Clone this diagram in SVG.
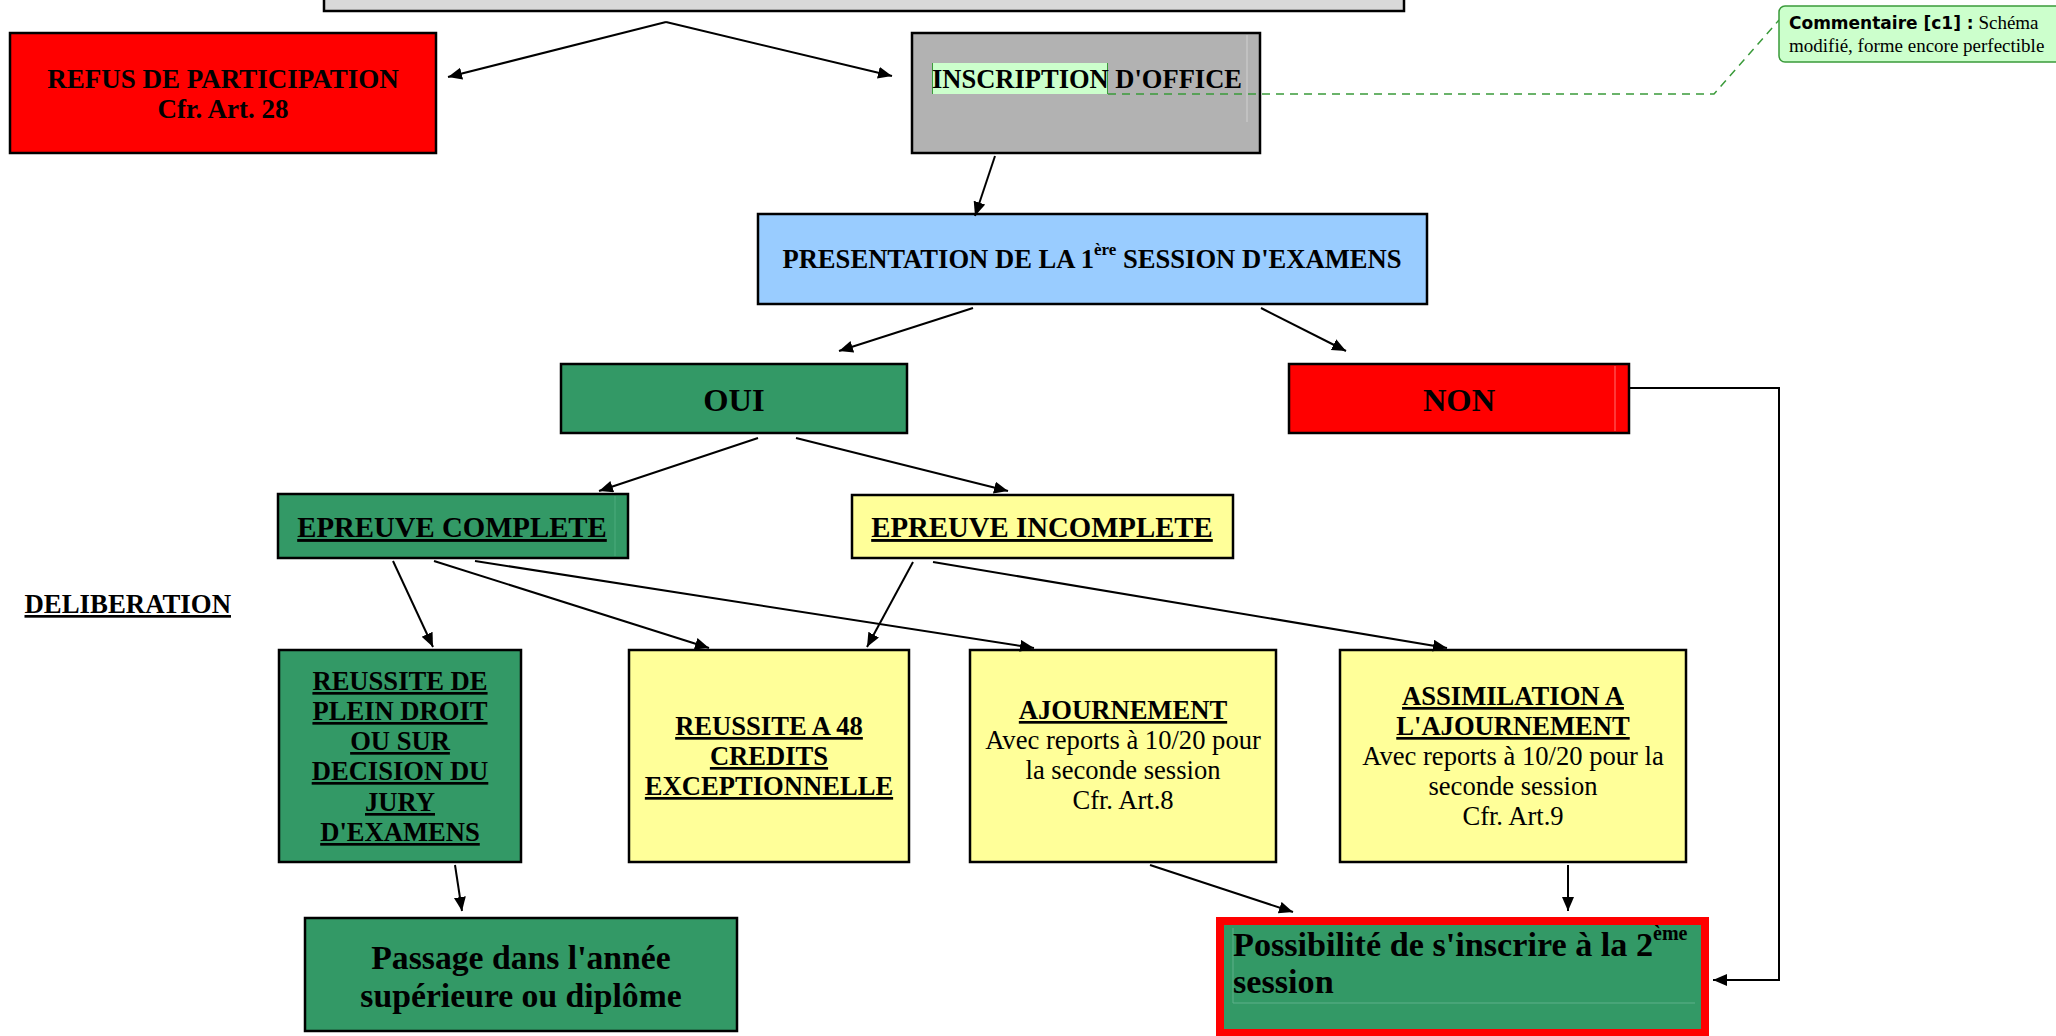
<svg xmlns="http://www.w3.org/2000/svg" width="2056" height="1036" viewBox="0 0 2056 1036">
<style>
  .box { stroke: #000; stroke-width: 2.5; }
  .red { fill: #ff0000; }
  .gray { fill: #b2b2b2; }
  .lgray { fill: #d9d9d9; }
  .blue { fill: #99ccff; }
  .green { fill: #339966; }
  .yellow { fill: #ffff99; }
  .t { font-family: "Liberation Serif", "Times New Roman", serif; fill: #000; }
  .b { font-weight: bold; }
  .c { text-anchor: middle; }
  .u { text-decoration: underline; }
  .conn { stroke: #000; stroke-width: 2; fill: none; marker-end: url(#arr); }
  .note { stroke: #3a9a3a; stroke-width: 1.5; fill: none; stroke-dasharray: 8 6; }
</style>
<defs>
  <marker id="arr" markerUnits="userSpaceOnUse" markerWidth="16" markerHeight="14" refX="14" refY="6" orient="auto">
    <path d="M0,0 L14,6 L0,12 z" fill="#000"/>
  </marker>
</defs>
<rect width="2056" height="1036" fill="#fff"/>

<g id="top">
  <rect class="box lgray" x="324" y="-40" width="1080" height="51"/>
</g>

<g id="refus">
  <rect class="box red" x="10" y="33" width="426" height="120"/>
  <text class="t b c" x="223" y="88" font-size="27">REFUS DE PARTICIPATION</text>
  <text class="t b c" x="223" y="118" font-size="27">Cfr. Art. 28</text>
</g>

<g id="inscription">
  <rect class="box gray" x="912" y="33" width="348" height="120"/>
  <line x1="1247" y1="35" x2="1247" y2="122" stroke="#d0d0d0" stroke-width="1"/>
  <rect x="932" y="63" width="176" height="31" fill="#ccffcc"/>
  <line x1="932.5" y1="63" x2="932.5" y2="94" stroke="#3a9a3a" stroke-width="1"/>
  <line x1="1107.5" y1="63" x2="1107.5" y2="94" stroke="#3a9a3a" stroke-width="1"/>
  <text class="t b" x="932" y="88" font-size="26.5">INSCRIPTION D'OFFICE</text>
</g>

<g id="commentaire">
  <path class="note" d="M1108,94 L1714,94 L1779,20"/>
  <rect x="1779" y="6" width="290" height="56" rx="6" fill="#ccffcc" stroke="#3a9a3a" stroke-width="1.5"/>
  <text x="1789" y="29"><tspan font-family="'DejaVu Sans', Verdana, sans-serif" font-weight="bold" font-size="17">Commentaire [c1] :</tspan><tspan class="t" font-size="19"> Schéma</tspan></text>
  <text class="t" x="1789" y="52" font-size="19">modifié, forme encore perfectible</text>
</g>

<g id="presentation">
  <rect class="box blue" x="758" y="214" width="669" height="90"/>
  <text class="t b c" x="1092" y="268" font-size="26.6">PRESENTATION DE LA 1<tspan font-size="17" dy="-13">ère</tspan><tspan dy="13"> SESSION D'EXAMENS</tspan></text>
</g>

<g id="oui">
  <rect class="box green" x="561" y="364" width="346" height="69"/>
  <text class="t b c" x="734" y="411" font-size="32.5">OUI</text>
</g>

<g id="non">
  <rect class="box red" x="1289" y="364" width="340" height="69"/>
  <line x1="1615" y1="366" x2="1615" y2="431" stroke="#ff7070" stroke-width="1"/>
  <text class="t b c" x="1459" y="411" font-size="32.5">NON</text>
</g>

<g id="epreuve-complete">
  <rect class="box green" x="278" y="494" width="350" height="64"/>
  <line x1="615" y1="496" x2="615" y2="556" stroke="#4dab7d" stroke-width="1"/>
  <text class="t b c u" x="452" y="537" font-size="28.8">EPREUVE COMPLETE</text>
</g>

<g id="epreuve-incomplete">
  <rect class="box yellow" x="852" y="495" width="381" height="63"/>
  <text class="t b c u" x="1042" y="537" font-size="28.8">EPREUVE INCOMPLETE</text>
</g>

<g id="deliberation">
  <text class="t b u" x="24.5" y="613" font-size="26.8">DELIBERATION</text>
</g>

<g id="reussite-plein-droit">
  <rect class="box green" x="279" y="650" width="242" height="212"/>
  <text class="t b c u" x="400" y="690" font-size="26.6">REUSSITE DE</text>
  <text class="t b c u" x="400" y="720" font-size="26.6">PLEIN DROIT</text>
  <text class="t b c u" x="400" y="750" font-size="26.6">OU SUR</text>
  <text class="t b c u" x="400" y="780" font-size="26.6">DECISION DU</text>
  <text class="t b c u" x="400" y="811" font-size="26.6">JURY</text>
  <text class="t b c u" x="400" y="841" font-size="26.6">D'EXAMENS</text>
</g>

<g id="reussite-48">
  <rect class="box yellow" x="629" y="650" width="280" height="212"/>
  <text class="t b c u" x="769" y="735" font-size="26.6">REUSSITE A 48</text>
  <text class="t b c u" x="769" y="765" font-size="26.6">CREDITS</text>
  <text class="t b c u" x="769" y="795" font-size="26.6">EXCEPTIONNELLE</text>
</g>

<g id="ajournement">
  <rect class="box yellow" x="970" y="650" width="306" height="212"/>
  <text class="t b c u" x="1123" y="719" font-size="26.6">AJOURNEMENT</text>
  <text class="t c" x="1123" y="749" font-size="26.6">Avec reports à 10/20 pour</text>
  <text class="t c" x="1123" y="779" font-size="26.6">la seconde session</text>
  <text class="t c" x="1123" y="809" font-size="26.6">Cfr. Art.8</text>
</g>

<g id="assimilation">
  <rect class="box yellow" x="1340" y="650" width="346" height="212"/>
  <text class="t b c u" x="1513" y="705" font-size="26.6">ASSIMILATION A</text>
  <text class="t b c u" x="1513" y="735" font-size="26.6">L'AJOURNEMENT</text>
  <text class="t c" x="1513" y="765" font-size="26.6">Avec reports à 10/20 pour la</text>
  <text class="t c" x="1513" y="795" font-size="26.6">seconde session</text>
  <text class="t c" x="1513" y="825" font-size="26.6">Cfr. Art.9</text>
</g>

<g id="passage">
  <rect class="box green" x="305" y="918" width="432" height="113"/>
  <text class="t b c" x="521" y="969" font-size="33.7">Passage dans l'année</text>
  <text class="t b c" x="521" y="1007" font-size="33.7">supérieure ou diplôme</text>
</g>

<g id="possibilite">
  <rect x="1220" y="921" width="485" height="112" fill="#339966" stroke="#ff0000" stroke-width="8"/>
  <path d="M1233,928 L1233,1003 L1695,1003" fill="none" stroke="#5fb08a" stroke-width="1"/>
  <text class="t b" x="1233" y="956" font-size="34.2">Possibilité de s'inscrire à la 2<tspan font-size="20" dy="-16">ème</tspan></text>
  <text class="t b" x="1233" y="993" font-size="34.2">session</text>
</g>

<g id="connectors">
  <line class="conn" x1="666" y1="22" x2="448" y2="77"/>
  <line class="conn" x1="666" y1="22" x2="892" y2="76"/>
  <line class="conn" x1="995" y1="156" x2="975" y2="216"/>
  <line class="conn" x1="973" y1="308" x2="839" y2="351"/>
  <line class="conn" x1="1261" y1="308" x2="1346" y2="351"/>
  <line class="conn" x1="758" y1="438" x2="599" y2="491"/>
  <line class="conn" x1="796" y1="438" x2="1008" y2="491"/>
  <line class="conn" x1="393" y1="561" x2="433" y2="647"/>
  <line class="conn" x1="434" y1="561" x2="709" y2="648"/>
  <line class="conn" x1="475" y1="561" x2="1034" y2="648"/>
  <line class="conn" x1="913" y1="562" x2="867" y2="647"/>
  <line class="conn" x1="933" y1="562" x2="1447" y2="648"/>
  <line class="conn" x1="455" y1="865" x2="462" y2="911"/>
  <line class="conn" x1="1150" y1="865" x2="1293" y2="912"/>
  <line class="conn" x1="1568" y1="865" x2="1568" y2="911"/>
  <polyline class="conn" points="1629,388 1779,388 1779,980 1713,980"/>
</g>
</svg>
